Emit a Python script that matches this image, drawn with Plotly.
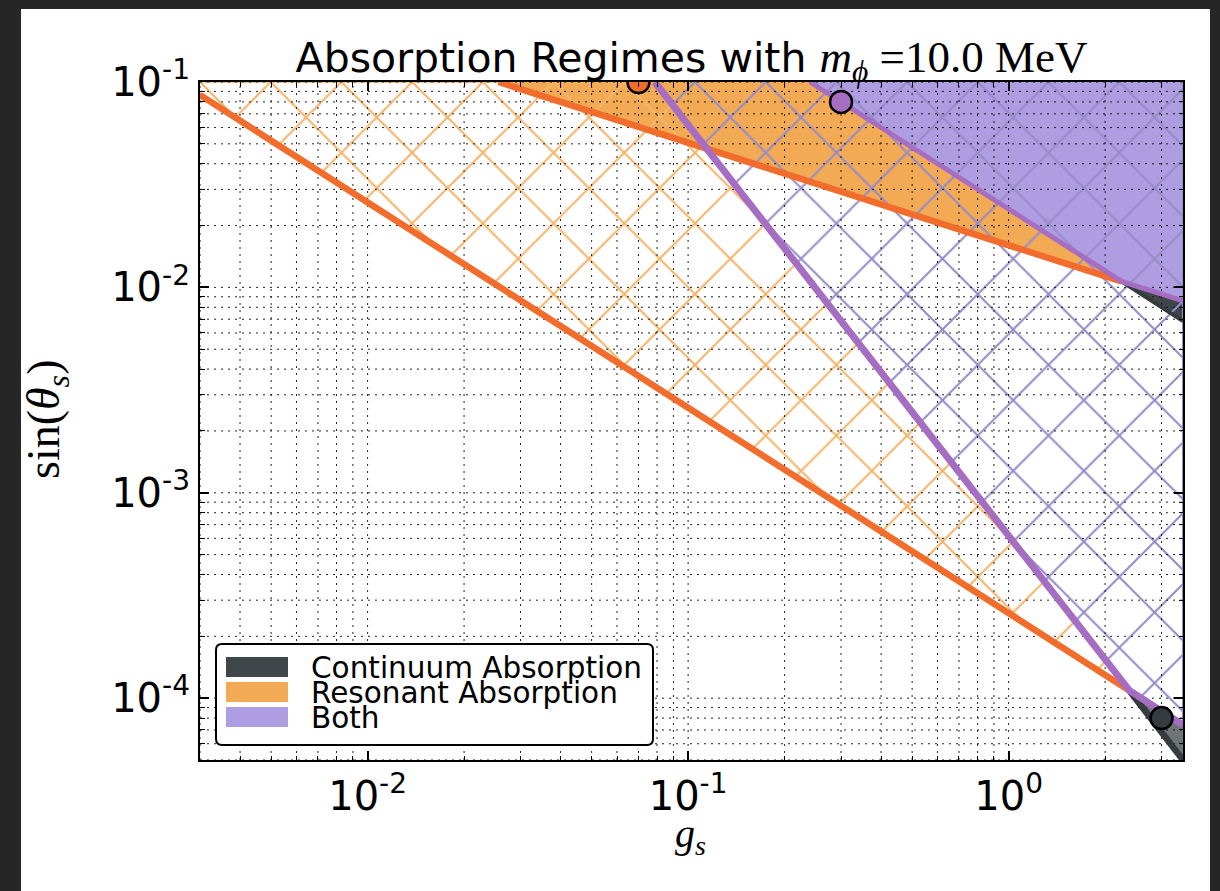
import math
import plotly.graph_objects as go

# ---- axis limits -------------------------------------------------------
G_LIM = [0.003, 3.5]      # g_s
S_LIM = [5e-5, 0.1]       # sin(theta_s)

# ---- regime boundaries (g_s, sin theta_s); middle vertex = crossing ----
# weak-criterion resonant boundary
res_weak_g = [0.003, 2.38, 3.5]
res_weak_s = [8.65e-2, 1.09e-4, 7.4e-5]
# weak-criterion continuum boundary
cont_weak_g = [0.0787, 2.38, 3.5]
cont_weak_s = [0.1, 1.09e-4, 5.0e-5]
# strong-criterion resonant boundary
res_strong_g = [0.0256, 2.25, 3.5]
res_strong_s = [0.1, 1.07e-2, 8.6e-3]
# strong-criterion continuum boundary
cont_strong_g = [0.24, 2.25, 3.5]
cont_strong_s = [0.1, 1.07e-2, 6.86e-3]

# benchmark points
bench_g = [0.07, 0.3, 3.0]
bench_s = [0.1, 0.08, 8e-5]

# tick labels
x_major = [1e-2, 1e-1, 1e0]
x_major_text = ["10<sup>-2</sup>", "10<sup>-1</sup>", "10<sup>0</sup>"]
y_major = [1e-4, 1e-3, 1e-2, 1e-1]
y_major_text = ["10<sup>-4</sup>", "10<sup>-3</sup>", "10<sup>-2</sup>", "10<sup>-1</sup>"]

legend_labels = ["Continuum Absorption", "Resonant Absorption", "Both"]

# ---- colours -------------------------------------------------------------
DARK_FILL = "#3f4649"
ORANGE_FILL = "#f2aa55"
PURPLE_FILL = "#ae9de0"
DARK_LINE = "#353b3e"
ORANGE_LINE = "#f26c2c"
PURPLE_LINE = "#a56ec2"
ORANGE_HATCH = "#f5b469"
PURPLE_HATCH = "#968bc9"
CLEAR = "rgba(0,0,0,0)"

SANS = "DejaVu Sans"
SERIF = "Liberation Serif"


def minor_values(lo, hi):
    vals = []
    for d in range(math.floor(math.log10(lo)), math.ceil(math.log10(hi)) + 1):
        for k in range(1, 10):
            v = k * 10.0 ** d
            if lo * 0.999 <= v <= hi * 1.001:
                vals.append(v)
    return vals


fig = go.Figure()


def solid(xs, ys, color):
    fig.add_trace(go.Scatter(x=xs, y=ys, mode="lines", fill="toself",
                             fillcolor=color, line=dict(width=0, color=color),
                             hoverinfo="skip", showlegend=False))


def hatch(xs, ys, color, edge):
    fig.add_trace(go.Scatter(x=xs, y=ys, mode="lines", fill="toself",
                             fillcolor=color,
                             fillpattern=dict(shape="x", size=50, solidity=0.08,
                                              fgcolor=color, fgopacity=1,
                                              bgcolor=CLEAR),
                             line=dict(width=edge, color=color),
                             hoverinfo="skip", showlegend=False))


def boundary(xs, ys, color, width):
    fig.add_trace(go.Scatter(x=xs, y=ys, mode="lines",
                             line=dict(width=width, color=color),
                             hoverinfo="skip", showlegend=False))


# strong-criterion regions (solid)
solid(res_strong_g[:2] + [cont_strong_g[0]],
      res_strong_s[:2] + [cont_strong_s[0]], ORANGE_FILL)
solid(cont_strong_g[:2] + res_strong_g[2:] + [G_LIM[1]],
      cont_strong_s[:2] + res_strong_s[2:] + [S_LIM[1]], PURPLE_FILL)
solid(cont_strong_g[1:] + res_strong_g[2:][::-1],
      cont_strong_s[1:] + res_strong_s[2:][::-1], DARK_FILL)

# weak-criterion regions (hatched)
hatch(res_weak_g[:2] + [cont_weak_g[0], G_LIM[0]],
      res_weak_s[:2] + [cont_weak_s[0], S_LIM[1]], ORANGE_HATCH, 1.5)
hatch(cont_weak_g[:2] + res_weak_g[2:] + [G_LIM[1]],
      cont_weak_s[:2] + res_weak_s[2:] + [S_LIM[1]], PURPLE_HATCH, 2)
solid(cont_weak_g[1:] + res_weak_g[2:][::-1],
      cont_weak_s[1:] + res_weak_s[2:][::-1], "rgba(63,70,73,0.75)")

# dotted grid on top of the filled regions
gx, gy = [], []
for v in minor_values(G_LIM[0], G_LIM[1]):
    gx += [v, v, None]
    gy += [S_LIM[0], S_LIM[1], None]
for v in minor_values(S_LIM[0], S_LIM[1]):
    gx += [G_LIM[0], G_LIM[1], None]
    gy += [v, v, None]
fig.add_trace(go.Scatter(x=gx, y=gy, mode="lines",
                         line=dict(width=1, color="rgba(10,10,10,0.9)", dash="2px,5px"),
                         hoverinfo="skip", showlegend=False))

# region boundaries
boundary(res_weak_g[:2], res_weak_s[:2], ORANGE_LINE, 6.5)
boundary(res_strong_g[:2], res_strong_s[:2], ORANGE_LINE, 6.5)
boundary(cont_weak_g[1:], cont_weak_s[1:], DARK_LINE, 6.5)
boundary(cont_strong_g[1:], cont_strong_s[1:], DARK_LINE, 4)
boundary(cont_weak_g[:2] + res_weak_g[2:], cont_weak_s[:2] + res_weak_s[2:], PURPLE_LINE, 7)
boundary(cont_strong_g[:2] + res_strong_g[2:], cont_strong_s[:2] + res_strong_s[2:], PURPLE_LINE, 5)

# benchmark points
fig.add_trace(go.Scatter(x=bench_g, y=bench_s, mode="markers",
                         marker=dict(size=22, color=[ORANGE_LINE, PURPLE_LINE, DARK_LINE],
                                     line=dict(width=2.5, color="black")),
                         hoverinfo="skip", showlegend=False))

# ---- layout ------------------------------------------------------------
L, R, T, B = 200, 37, 82, 131
W, H = 1220, 891
PW, PH = W - L - R, H - T - B


def fx(px):
    return (px - L) / PW


def fy(py):
    return (H - B - py) / PH


shapes = [dict(type="rect", xref="paper", yref="paper", layer="below",
               x0=fx(21), x1=fx(1210), y0=fy(H + 5), y1=fy(9),
               fillcolor="white", line=dict(width=0))]


def rounded_box(x0, y0, x1, y1, r):
    rx, ry = r / PW, r / PH
    a0, a1, b0, b1 = fx(x0), fx(x1), fy(y1), fy(y0)
    return (f"M{a0 + rx},{b0} L{a1 - rx},{b0} Q{a1},{b0} {a1},{b0 + ry} "
            f"L{a1},{b1 - ry} Q{a1},{b1} {a1 - rx},{b1} L{a0 + rx},{b1} "
            f"Q{a0},{b1} {a0},{b1 - ry} L{a0},{b0 + ry} Q{a0},{b0} {a0 + rx},{b0} Z")


shapes.append(dict(type="path", xref="paper", yref="paper", path=rounded_box(216, 644, 653, 745, 6),
                   fillcolor="white", line=dict(color="black", width=2), layer="above"))
annotations = []
swatch_rows = [(657, 677), (682, 702), (707, 727)]
for (ya, yb), lab, col in zip(swatch_rows, legend_labels, [DARK_FILL, ORANGE_FILL, PURPLE_FILL]):
    shapes.append(dict(type="rect", xref="paper", yref="paper", layer="above",
                       x0=fx(226), x1=fx(288), y0=fy(yb), y1=fy(ya),
                       fillcolor=col, line=dict(width=0)))
    annotations.append(dict(xref="paper", yref="paper", x=fx(309), y=fy((ya + yb) / 2 + 1),
                            xanchor="left", yanchor="middle", showarrow=False, text=lab,
                            font=dict(family=SANS, size=29.5, color="black")))

# axis titles
annotations.append(dict(xref="paper", yref="paper", x=fx(690), y=fy(836),
                        xanchor="center", yanchor="middle", showarrow=False,
                        text="<i>g</i><sub><i>s</i></sub>",
                        font=dict(family=SERIF, size=40, color="black")))
annotations.append(dict(xref="paper", yref="paper", x=fx(47), y=fy(420),
                        xanchor="center", yanchor="middle", showarrow=False, textangle=-90,
                        text="sin(<i>θ</i><sub><i>s</i></sub>)",
                        font=dict(family=SERIF, size=46, color="black")))

axis_common = dict(type="log", ticks="inside", ticklen=9, tickwidth=1.5, tickcolor="black",
                   showline=True, linewidth=2, linecolor="black", mirror="ticks",
                   showgrid=False, zeroline=False,
                   tickfont=dict(family=SANS, size=40, color="black"))

fig.update_layout(
    width=W, height=H, margin=dict(l=L, r=R, t=T, b=B),
    paper_bgcolor="#262626", plot_bgcolor="white", showlegend=False,
    shapes=shapes, annotations=annotations,
    title=dict(text=("Absorption Regimes with "
                     f"<span style=\"font-family:'{SERIF}';font-size:45px\"><i>m</i><sub><i>ϕ</i></sub> =10.0 MeV</span>"),
               x=0.5, xref="paper", xanchor="center",
               y=1 - 58 / H, yref="container", yanchor="middle",
               font=dict(family=SANS, size=41, color="black")),
    xaxis=dict(axis_common, range=[math.log10(G_LIM[0]), math.log10(G_LIM[1])],
               tickmode="array", tickvals=x_major, ticktext=x_major_text,
               minor=dict(tickmode="array", tickvals=minor_values(G_LIM[0], G_LIM[1]),
                          ticks="inside", ticklen=4.5, tickwidth=1, tickcolor="black", showgrid=False)),
    yaxis=dict(axis_common, range=[math.log10(S_LIM[0]), math.log10(S_LIM[1])],
               tickmode="array", tickvals=y_major, ticktext=y_major_text,
               minor=dict(tickmode="array", tickvals=minor_values(S_LIM[0], S_LIM[1]),
                          ticks="inside", ticklen=4.5, tickwidth=1, tickcolor="black", showgrid=False)),
)

fig.write_html("out.html")
